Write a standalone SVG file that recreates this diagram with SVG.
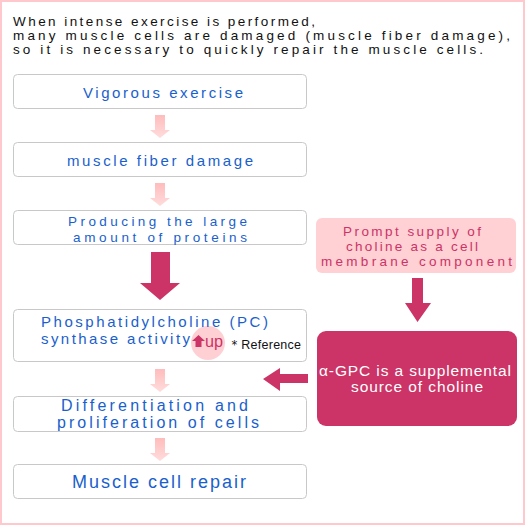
<svg xmlns="http://www.w3.org/2000/svg" width="525" height="525" viewBox="0 0 525 525">
<style>
.box{fill:#ffffff;stroke:#c8c8c8;stroke-width:1}
.t{font-family:"Liberation Sans",Arial,sans-serif;font-size:15px;fill:#1a5fcc}
.t2{font-family:"Liberation Sans",Arial,sans-serif;font-size:13.5px;fill:#1a5fcc}
.tb{font-family:"Liberation Sans",Arial,sans-serif;font-size:18px;fill:#1a5fcc}
.tb2{font-family:"Liberation Sans",Arial,sans-serif;font-size:16px;fill:#1a5fcc}
.title{font-family:"Liberation Sans",Arial,sans-serif;font-size:13.5px;fill:#111111}
.pk{font-family:"Liberation Sans",Arial,sans-serif;font-size:13.5px;fill:#cc3366}
.wh{font-family:"Liberation Sans",Arial,sans-serif;font-size:15.5px;fill:#ffffff}
.crim{fill:#cc3366}
.soft{fill:url(#sg)}
</style>
<defs>
<linearGradient id="sg" x1="0" y1="0" x2="0" y2="1">
<stop offset="0" stop-color="#ffbcbc"/>
<stop offset="1" stop-color="#ffdcdc"/>
</linearGradient>
<path id="sa" d="M-5,0 H5 V15 H10 L0,23 L-10,15 H-5 Z"/>
</defs>
<rect x="1" y="1" width="523" height="523" fill="#ffffff" stroke="#ffc8cc" stroke-width="2"/>
<g id="title">
<text class="title" x="13" y="26" textLength="302" lengthAdjust="spacing">When intense exercise is performed,</text>
<text class="title" x="13" y="40" textLength="497" lengthAdjust="spacing">many muscle cells are damaged (muscle fiber damage),</text>
<text class="title" x="13" y="54" textLength="470" lengthAdjust="spacing">so it is necessary to quickly repair the muscle cells.</text>
</g>
<g id="connectors">
<use href="#sa" class="soft" x="160" y="115"/>
<use href="#sa" class="soft" x="160" y="183"/>
<path class="crim" d="M151,252 H170 V283 H180 L160,300 L140,283 H151 Z"/>
<use href="#sa" class="soft" x="160" y="369"/>
<use href="#sa" class="soft" x="160" y="438"/>
<path class="crim" d="M412,278 H423 V303 H431 L417.5,322 L405,303 H412 Z"/>
<path class="crim" d="M308,374 V383 H280 V391 L263,379 L280,368 V374 Z"/>
</g>
<g id="n1">
<rect class="box" x="13.5" y="74.5" width="293" height="34" rx="4"/>
<text class="t" x="83" y="98" textLength="160" lengthAdjust="spacing">Vigorous exercise</text>
</g>
<g id="n2">
<rect class="box" x="13.5" y="142.5" width="293" height="34" rx="4"/>
<text class="t" x="67" y="166" textLength="186" lengthAdjust="spacing">muscle fiber damage</text>
</g>
<g id="n3">
<rect class="box" x="13.5" y="210.5" width="293" height="34" rx="4"/>
<text class="t2" x="68" y="226" textLength="179" lengthAdjust="spacing">Producing the large</text>
<text class="t2" x="73" y="241.5" textLength="174" lengthAdjust="spacing">amount of proteins</text>
</g>
<g id="n4">
<rect class="box" x="13.5" y="309.5" width="293" height="52" rx="4"/>
<circle cx="208" cy="343" r="17" fill="#ffc4c8" opacity="0.8"/>
<text class="t" x="41" y="327" textLength="227" lengthAdjust="spacing">Phosphatidylcholine (PC)</text>
<text class="t" x="41" y="344" textLength="149" lengthAdjust="spacing">synthase activity</text>
<path class="crim" d="M198.5,335 L205,341 H201.5 V347 H195.5 V341 H192 Z"/>
<text x="205" y="347" font-family="'Liberation Sans',Arial,sans-serif" font-size="16" fill="#cc3366" textLength="18" lengthAdjust="spacingAndGlyphs">up</text>
<text x="228" y="349" font-family="'Liberation Sans',Arial,sans-serif" font-size="12.5" fill="#111111" textLength="73" lengthAdjust="spacing">＊Reference</text>
</g>
<g id="n5">
<rect class="box" x="13.5" y="396.5" width="293" height="35" rx="4"/>
<text class="tb2" x="61" y="410.5" textLength="187" lengthAdjust="spacing">Differentiation and</text>
<text class="tb2" x="57" y="427.5" textLength="202" lengthAdjust="spacing">proliferation of cells</text>
</g>
<g id="n6">
<rect class="box" x="13.5" y="464.5" width="293" height="34" rx="4"/>
<text class="tb" x="72" y="488" textLength="174" lengthAdjust="spacing">Muscle cell repair</text>
</g>
<g id="n7">
<rect x="316" y="218" width="200" height="55" rx="6" fill="#ffd0d4"/>
<text class="pk" x="343" y="235.5" textLength="138" lengthAdjust="spacing">Prompt supply of</text>
<text class="pk" x="346" y="250.5" textLength="132" lengthAdjust="spacing">choline as a cell</text>
<text class="pk" x="321" y="265.5" textLength="191" lengthAdjust="spacing">membrane component</text>
</g>
<g id="n8">
<rect x="317" y="331" width="200" height="95" rx="9" fill="#cc3366"/>
<text class="wh" x="319" y="376" textLength="192" lengthAdjust="spacing">α-GPC is a supplemental</text>
<text class="wh" x="351" y="392" textLength="132" lengthAdjust="spacing">source of choline</text>
</g>
</svg>
